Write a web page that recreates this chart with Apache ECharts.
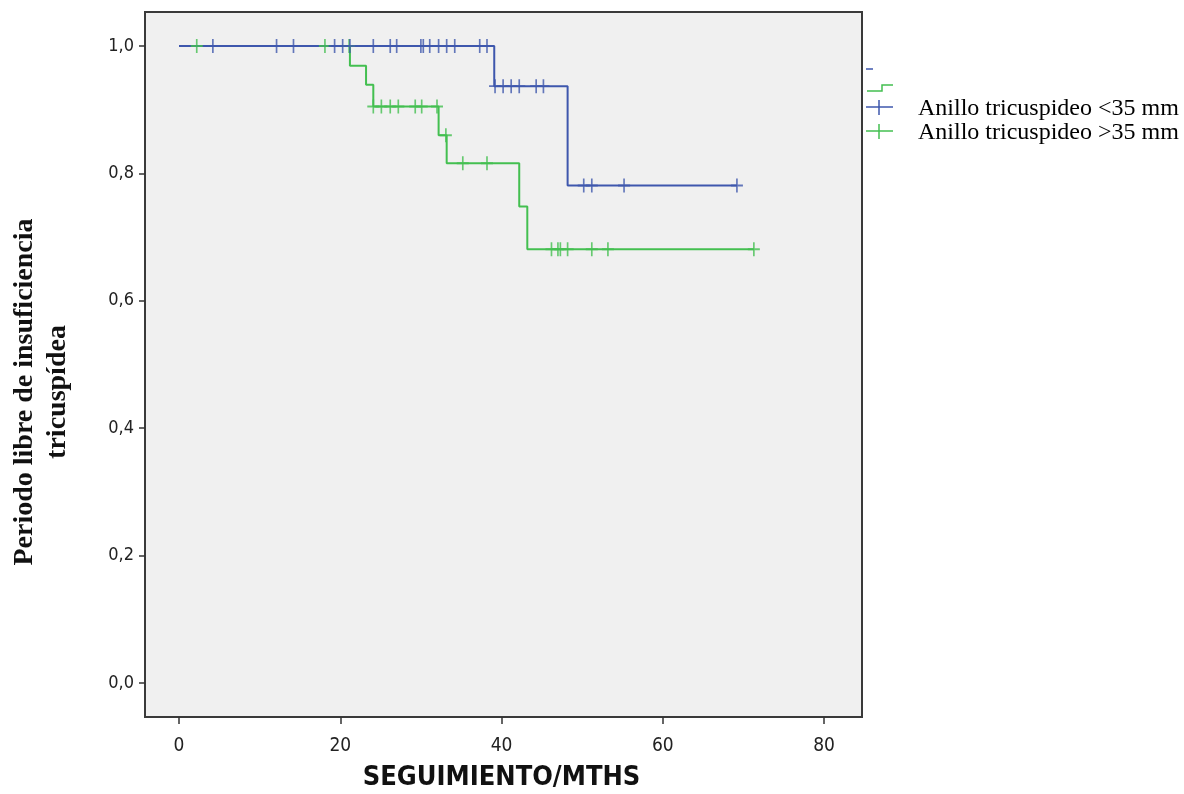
<!DOCTYPE html>
<html>
<head>
<meta charset="utf-8">
<script src="https://cdn.jsdelivr.net/npm/echarts@6/dist/echarts.min.js"></script>
<style>
  html, body { margin: 0; padding: 0; background: #ffffff; }
  #chart { width: 1184px; height: 794px; }
</style>
</head>
<body>
<div id="chart"></div>
<script>
// ---- Data ----
const xTicks = [0, 20, 40, 60, 80];
const yTicks = [0, 0.2, 0.4, 0.6, 0.8, 1.0];

const seriesNames = ['Anillo tricuspideo <35 mm', 'Anillo tricuspideo >35 mm'];

// Kaplan-Meier step points (time in months, survival)
const blueTimes = [0, 39.1, 48.2, 69.2];
const blueSurv  = [1.0, 0.937, 0.781, 0.781];
const blueCensor = [4.2, 12.1, 14.2, 19.3, 20.3, 21.2, 24.1, 26.2, 27.0, 30.0, 30.3, 31.1, 32.2, 33.2, 34.2, 37.3, 38.2,
                    39.2, 40.2, 41.2, 42.2, 44.3, 45.2,
                    50.2, 51.2, 55.2, 69.2];

const greenTimes = [0, 21.2, 23.2, 24.1, 32.2, 33.2, 42.2, 43.2, 71.3];
const greenSurv  = [1.0, 0.969, 0.939, 0.905, 0.860, 0.816, 0.748, 0.681, 0.681];
const greenCensor = [2.2, 18.1, 21.1, 24.1, 25.1, 26.2, 27.2, 29.3, 30.1, 32.0, 33.1, 35.2, 38.2,
                     46.2, 47.0, 47.3, 48.2, 51.2, 53.2, 71.3];

const BLUE = '#3e57ad';
const GREEN = '#43bf50';
const FRAME = '#3a3a3a';

function survAt(times, surv, t) {
  let s = surv[0];
  for (let i = 0; i < times.length; i++) { if (times[i] <= t + 1e-9) s = surv[i]; }
  return s;
}
const pairs = (ts, ss) => ts.map((t, i) => [t, ss[i]]);
const censorPts = (cs, ts, ss) => cs.map(t => [t, survAt(ts, ss, t)]);

const plusPath = 'path://M0,6H12M6,0V12';

const chart = echarts.init(document.getElementById('chart'), null, { renderer: 'canvas' });

const option = {
  backgroundColor: '#ffffff',
  animation: false,
  grid: { left: 179, right: 360, top: 46, bottom: 111, containLabel: false, outerBoundsMode: 'none' },
  xAxis: {
    type: 'value', min: xTicks[0], max: xTicks[xTicks.length - 1], interval: 20, offset: 34,
    name: 'SEGUIMIENTO/MTHS', nameLocation: 'middle', nameGap: 47,
    nameTextStyle: { fontFamily: 'DejaVu Sans Condensed', fontWeight: 'bold', fontSize: 27, color: '#111' },
    axisLine: { show: true, onZero: false, lineStyle: { color: FRAME, width: 2 } },
    axisTick: { show: true, length: 7, lineStyle: { color: '#333', width: 1.5 } },
    axisLabel: { margin: 20, fontFamily: 'DejaVu Sans Condensed', fontSize: 19, color: '#222',
                 formatter: v => String(v) },
    splitLine: { show: false }
  },
  yAxis: {
    type: 'value', min: yTicks[0], max: yTicks[yTicks.length - 1], interval: 0.2, offset: 34,
    axisLine: { show: true, onZero: false, lineStyle: { color: FRAME, width: 2 } },
    axisTick: { show: true, length: 6, lineStyle: { color: '#333', width: 1.5 } },
    axisLabel: { margin: 11, fontFamily: 'DejaVu Sans Condensed', fontSize: 18, color: '#222',
                 formatter: v => v.toFixed(1).replace('.', ',') },
    splitLine: { show: false }
  },
  graphic: [
    { type: 'rect', z: -10, silent: true,
      shape: { x: 145, y: 12, width: 717, height: 705 },
      style: { fill: '#f0f0f0', stroke: FRAME, lineWidth: 2 } },
    { type: 'text', x: 41, y: 392, rotation: Math.PI / 2,
      style: { text: 'Periodo libre de insuficiencia\ntricuspídea', fontFamily: 'Liberation Serif',
               fontWeight: 'bold', fontSize: 28, lineHeight: 33, fill: '#111',
               align: 'center', verticalAlign: 'middle' } },
    // legend items
    { type: 'line', shape: { x1: 866, y1: 69, x2: 873, y2: 69 }, style: { stroke: BLUE, lineWidth: 1.5 } },
    { type: 'polyline', shape: { points: [[867, 91], [882, 91], [882, 85], [893, 85]] },
      style: { stroke: GREEN, lineWidth: 1.5, fill: null } },
    { type: 'line', shape: { x1: 866, y1: 107, x2: 893, y2: 107 }, style: { stroke: BLUE, lineWidth: 1.5 } },
    { type: 'line', shape: { x1: 879, y1: 100, x2: 879, y2: 115 }, style: { stroke: BLUE, lineWidth: 1.5 } },
    { type: 'line', shape: { x1: 866, y1: 131, x2: 893, y2: 131 }, style: { stroke: GREEN, lineWidth: 1.5 } },
    { type: 'line', shape: { x1: 879, y1: 124, x2: 879, y2: 139 }, style: { stroke: GREEN, lineWidth: 1.5 } },
    { type: 'text', x: 918, y: 109,
      style: { text: seriesNames[0], fontFamily: 'Liberation Serif', fontSize: 24, fill: '#000', verticalAlign: 'middle' } },
    { type: 'text', x: 918, y: 133,
      style: { text: seriesNames[1], fontFamily: 'Liberation Serif', fontSize: 24, fill: '#000', verticalAlign: 'middle' } }
  ],
  series: [
    { name: seriesNames[0], type: 'line', step: 'end', clip: false, showSymbol: false,
      data: pairs(blueTimes, blueSurv), lineStyle: { color: BLUE, width: 2 }, z: 3 },
    { name: seriesNames[1], type: 'line', step: 'end', clip: false, showSymbol: false,
      data: pairs(greenTimes, greenSurv), lineStyle: { color: GREEN, width: 2 }, z: 2 },
    { name: seriesNames[0] + ' censored', type: 'scatter', symbol: plusPath, symbolSize: [12, 14], clip: false,
      data: censorPts(blueCensor, blueTimes, blueSurv),
      itemStyle: { color: 'rgba(0,0,0,0)', borderColor: BLUE, borderWidth: 1.8 }, z: 4 },
    { name: seriesNames[1] + ' censored', type: 'scatter', symbol: plusPath, symbolSize: [12, 14], clip: false,
      data: censorPts(greenCensor, greenTimes, greenSurv),
      itemStyle: { color: 'rgba(0,0,0,0)', borderColor: GREEN, borderWidth: 1.8 }, z: 3 }
  ]
};
chart.setOption(option);
</script>
</body>
</html>
